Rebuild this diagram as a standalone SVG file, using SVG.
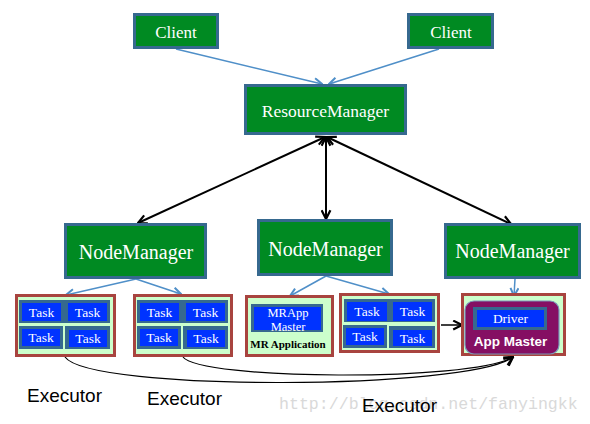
<svg xmlns="http://www.w3.org/2000/svg" width="590" height="424" viewBox="0 0 590 424">
<defs>
<style>
.node{fill:#008A22;stroke:#36698F;stroke-width:3}
.nt{font-family:"Liberation Serif","Times New Roman",serif;fill:#FFFFFF;text-anchor:middle}
.box{fill:#CCFFCC;stroke:#A8443F;stroke-width:3}
.steel{fill:#36698F}
.blue{fill:#0033FF}
.tt{font-family:"Liberation Serif","Times New Roman",serif;font-size:13.5px;fill:#FFFFFF;text-anchor:middle}
.ex{font-family:"Liberation Sans",Arial,sans-serif;font-size:19px;fill:#000000}
.bl{fill:none;stroke:#4F8FC8;stroke-width:1.5}
.bk{fill:none;stroke:#000000;stroke-width:2}
.cv{fill:none;stroke:#000000;stroke-width:1.2}
</style>
<marker id="ab" viewBox="0 0 10 10" refX="9" refY="5" markerWidth="10" markerHeight="10" markerUnits="userSpaceOnUse" orient="auto">
<path d="M1,1 L9,5 L1,9" fill="none" stroke="#4F8FC8" stroke-width="2"/>
</marker>
<marker id="ak" viewBox="0 0 10 10" refX="9" refY="5" markerWidth="11" markerHeight="11" markerUnits="userSpaceOnUse" orient="auto-start-reverse">
<path d="M1,1 L9,5 L1,9" fill="none" stroke="#000000" stroke-width="2"/>
</marker>
<marker id="ak2" viewBox="0 0 10 10" refX="9" refY="5" markerWidth="11" markerHeight="11" markerUnits="userSpaceOnUse" orient="auto">
<path d="M1,1 L9,5 L1,9" fill="none" stroke="#000000" stroke-width="2"/>
</marker>
</defs>
<rect width="590" height="424" fill="#FFFFFF"/>
<text x="279" y="409" font-family="'Liberation Mono','Courier New',monospace" font-size="16.6" fill="#D9D9D9">http://blog.csdn.net/fanyingkk</text>

<g id="connectors">
<path class="bl" d="M176,49 L322,84" marker-end="url(#ab)"/>
<path class="bl" d="M439,49 L329,84" marker-end="url(#ab)"/>
<path class="bk" d="M325,137 L138,223" marker-start="url(#ak)" marker-end="url(#ak)"/>
<path class="bk" d="M326,137 L326,219" marker-start="url(#ak)" marker-end="url(#ak)"/>
<path class="bk" d="M327,137 L511,224" marker-start="url(#ak)" marker-end="url(#ak)"/>
<path class="bl" d="M136,279 L66,295" marker-end="url(#ab)"/>
<path class="bl" d="M136,279 L181,294" marker-end="url(#ab)"/>
<path class="bl" d="M326,276 L290,296" marker-end="url(#ab)"/>
<path class="bl" d="M326,276 L389,294" marker-end="url(#ab)"/>
<path class="bl" d="M515,279 L514,296" marker-end="url(#ab)"/>
<path d="M441,325 L462,325" fill="none" stroke="#000000" stroke-width="1.5" marker-end="url(#ak2)"/>
<path class="cv" d="M65,357 C90,392 470,390 513,357" marker-end="url(#ak2)"/>
<path class="cv" d="M183,357 C200,380 470,382 513,357" marker-end="url(#ak2)"/>
</g>

<g id="client1"><rect class="node" x="134.5" y="14.5" width="83" height="33"/><text class="nt" x="176" y="38" font-size="17">Client</text></g>
<g id="client2"><rect class="node" x="408.5" y="14.5" width="84" height="33"/><text class="nt" x="451" y="38" font-size="17">Client</text></g>
<g id="resourcemanager"><rect class="node" x="245.5" y="85.5" width="160" height="48"/><text class="nt" x="325.5" y="117" font-size="17.5">ResourceManager</text></g>
<g id="nodemanager1"><rect class="node" x="65.5" y="224.5" width="140" height="53"/><text class="nt" x="136" y="259" font-size="20">NodeManager</text></g>
<g id="nodemanager2"><rect class="node" x="258.5" y="220.5" width="133" height="54"/><text class="nt" x="325.5" y="256" font-size="20">NodeManager</text></g>
<g id="nodemanager3"><rect class="node" x="445.5" y="224.5" width="134" height="53"/><text class="nt" x="512.5" y="258" font-size="20">NodeManager</text></g>

<g id="executor1" transform="translate(15,294)">
<rect class="box" x="1.5" y="1.5" width="98" height="60"/>
<rect class="steel" x="4" y="6" width="91" height="23"/>
<rect class="blue" x="7" y="9" width="39" height="18"/>
<rect class="blue" x="53" y="9" width="39" height="18"/>
<rect class="steel" x="4" y="32" width="44" height="23"/>
<rect class="blue" x="7" y="35" width="38" height="17"/>
<rect class="steel" x="50" y="32" width="45" height="23"/>
<rect class="blue" x="54" y="36" width="38" height="17"/>
<text class="tt" x="26.5" y="22.5">Task</text>
<text class="tt" x="72.5" y="22.5">Task</text>
<text class="tt" x="26" y="48">Task</text>
<text class="tt" x="73" y="49">Task</text>
</g>
<g id="executor2" transform="translate(133,294)">
<rect class="box" x="1.5" y="1.5" width="97" height="60"/>
<rect class="steel" x="4" y="6" width="91" height="23"/>
<rect class="blue" x="7" y="9" width="39" height="18"/>
<rect class="blue" x="53" y="9" width="39" height="18"/>
<rect class="steel" x="4" y="32" width="44" height="23"/>
<rect class="blue" x="7" y="35" width="38" height="17"/>
<rect class="steel" x="50" y="32" width="45" height="23"/>
<rect class="blue" x="54" y="36" width="38" height="17"/>
<text class="tt" x="26.5" y="22.5">Task</text>
<text class="tt" x="72.5" y="22.5">Task</text>
<text class="tt" x="26" y="48">Task</text>
<text class="tt" x="73" y="49">Task</text>
</g>
<g id="mrapplication" transform="translate(245,295)">
<rect class="box" x="1.5" y="1.5" width="86" height="59"/>
<rect class="steel" x="6" y="9" width="72" height="28"/>
<rect class="blue" x="9" y="12" width="67" height="23"/>
<text class="tt" x="43" y="22" style="font-size:12.5px">MRApp</text>
<text class="tt" x="43" y="35.5" style="font-size:12.5px">Master</text>
<text x="43" y="53" font-family="'Liberation Serif','Times New Roman',serif" font-size="11" font-weight="bold" fill="#000000" text-anchor="middle">MR Application</text>
</g>
<g id="executor3" transform="translate(339,293)">
<rect class="box" x="1.5" y="1.5" width="98" height="57"/>
<rect class="steel" x="5" y="6" width="91" height="23"/>
<rect class="blue" x="8" y="9" width="40" height="19"/>
<rect class="blue" x="54" y="9" width="39" height="19"/>
<rect class="steel" x="4" y="32" width="44" height="23"/>
<rect class="blue" x="7" y="35" width="38" height="17"/>
<rect class="steel" x="50" y="33" width="46" height="22"/>
<rect class="blue" x="54" y="37" width="39" height="16"/>
<text class="tt" x="28" y="23">Task</text>
<text class="tt" x="73.5" y="23">Task</text>
<text class="tt" x="26" y="48">Task</text>
<text class="tt" x="73.5" y="50">Task</text>
</g>
<g id="appmaster" transform="translate(461,293)">
<rect class="box" x="1.5" y="1.5" width="102" height="60"/>
<rect x="4" y="8" width="94" height="53" rx="9" ry="9" fill="#850F63" stroke="#7A96B8" stroke-width="1.2"/>
<rect class="steel" x="12" y="14" width="74" height="23"/>
<rect class="blue" x="16" y="17" width="67" height="17"/>
<text class="tt" x="49.5" y="30">Driver</text>
<text x="49.5" y="53" font-family="'Liberation Sans',Arial,sans-serif" font-size="13.5" font-weight="bold" fill="#FFFFFF" text-anchor="middle">App Master</text>
</g>

<text class="ex" x="27" y="402">Executor</text>
<text class="ex" x="147" y="405">Executor</text>
<text class="ex" x="362" y="412">Executor</text>
</svg>
